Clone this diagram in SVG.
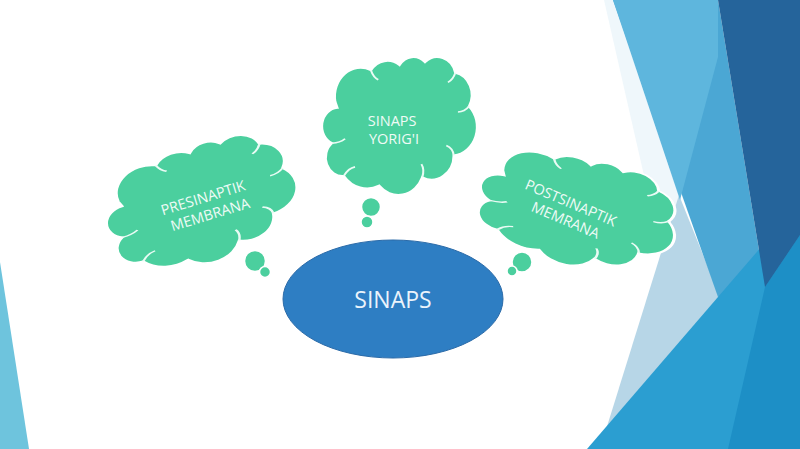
<svg xmlns="http://www.w3.org/2000/svg" xmlns:xlink="http://www.w3.org/1999/xlink" width="800" height="449" viewBox="0 0 800 449">
  <style>
    .cloud { fill: #4bcf9e; stroke: #ffffff; stroke-width: 1.5; }
    .inner { fill: none; stroke: #e9fbf4; stroke-width: 1.2; }
    .ctext { font-family: "Open Sans", "Liberation Sans", sans-serif; font-size: 14.5px; fill: #effbf6; text-anchor: middle; }
    .mtext { font-family: "Open Sans", "Liberation Sans", sans-serif; font-size: 23px; fill: #eaf3fb; text-anchor: middle; }
  </style>
  <defs>
    <path id="cloudShape" d="M -40.97,-16.74 A 15.63 21.27 0 0 1 -19.42,-40.15 A 12.34 16.82 0 0 1 -2.19,-43.92 A 10.10 13.76 0 0 1 13.17,-46.10 A 11.24 15.27 0 0 1 31.47,-38.21 A 12.34 16.84 0 0 1 39.71,-13.20 A 15.68 21.34 0 0 1 30.50,23.45 A 13.39 18.21 0 0 1 11.53,39.80 A 15.63 21.33 0 0 1 -14.47,46.03 A 17.87 24.41 0 0 1 -35.74,38.73 A 10.09 13.70 0 0 1 -42.85,14.32 A 10.06 13.76 0 0 1 -39.65,-12.06 Z"/>
    <path id="cloudInner" d="M 39.71,-13.20 Q 37,-9 33,-9 M 30.50,23.45 Q 30,18 26,16 M 11.53,39.80 Q 13,34 11,30 M -35.74,38.73 Q -33,33 -29,32 M -42.85,14.32 Q -38,14 -35,11 M -19.42,-40.15 Q -18,-35 -15,-33 M 31.47,-38.21 Q 30,-33 27,-31"/>
  </defs>

  <rect width="800" height="449" fill="#ffffff"/>

  <g id="background">
    <polygon points="0,262 29,449 0,449" fill="#6ec4dd"/>
    <polygon points="604,0 613,0 680,200 668,235 645,180" fill="#eff7fb"/>
    <polygon points="679,195 726,312 600,449" fill="#b7d6e7"/>
    <polygon points="613,0 718,0 765,287 718,297" fill="#4ba7d4"/>
    <polygon points="613,0 718,0 718,57 680,200" fill="#5eb6dd"/>
    <polygon points="587,449 718,297 800,202 800,449" fill="#2b9ed1"/>
    <polygon points="800,235 765,287 728,449 800,449" fill="#1d8fc6"/>
    <polygon points="718,0 800,0 800,235 765,287" fill="#25649b"/>
  </g>

  <g id="connectors"></g>

  <g id="cloud-presinaptik">
    <g transform="translate(201.5,204) rotate(-13) scale(2.08,1.15) translate(2.2,-1.5)">
      <use xlink:href="#cloudShape" class="cloud" vector-effect="non-scaling-stroke"/>
      <use xlink:href="#cloudInner" class="inner" vector-effect="non-scaling-stroke"/>
    </g>
    <circle cx="255" cy="261" r="10.5" class="cloud"/>
    <circle cx="265" cy="272" r="5.5" class="cloud"/>
    <text class="ctext" transform="translate(207.5,206) rotate(-17)">
      <tspan x="0" y="-4">PRESINAPTIK</tspan>
      <tspan x="0" y="14">MEMBRANA</tspan>
    </text>
  </g>

  <g id="cloud-sinaps-yorigi">
    <g transform="translate(399.5,126) scale(1.66,1.34) translate(2.2,-1.5)">
      <use xlink:href="#cloudShape" class="cloud" vector-effect="non-scaling-stroke"/>
      <use xlink:href="#cloudInner" class="inner" vector-effect="non-scaling-stroke"/>
    </g>
    <circle cx="371" cy="207" r="9.5" class="cloud"/>
    <circle cx="367" cy="222" r="6" class="cloud"/>
    <text class="ctext" transform="translate(394,130)">
      <tspan x="0" y="-4">SINAPS</tspan>
      <tspan x="0" y="14">YORIG'I</tspan>
    </text>
  </g>

  <g id="cloud-postsinaptik">
    <g transform="translate(577.5,211.5) rotate(16) scale(2.15,1.06) translate(2.2,-1.5)">
      <use xlink:href="#cloudShape" class="cloud" vector-effect="non-scaling-stroke"/>
      <use xlink:href="#cloudInner" class="inner" vector-effect="non-scaling-stroke"/>
    </g>
    <circle cx="522" cy="262" r="10" class="cloud"/>
    <circle cx="512" cy="271" r="5" class="cloud"/>
    <text class="ctext" transform="translate(569,212) rotate(23)">
      <tspan x="0" y="-4">POSTSINAPTIK</tspan>
      <tspan x="0" y="14">MEMRANA</tspan>
    </text>
  </g>

  <g id="node-sinaps">
    <ellipse cx="393" cy="299" rx="110" ry="59" fill="#2e7ec3" stroke="#2a6aa8" stroke-width="1"/>
    <text class="mtext" x="393" y="308">SINAPS</text>
  </g>
</svg>
